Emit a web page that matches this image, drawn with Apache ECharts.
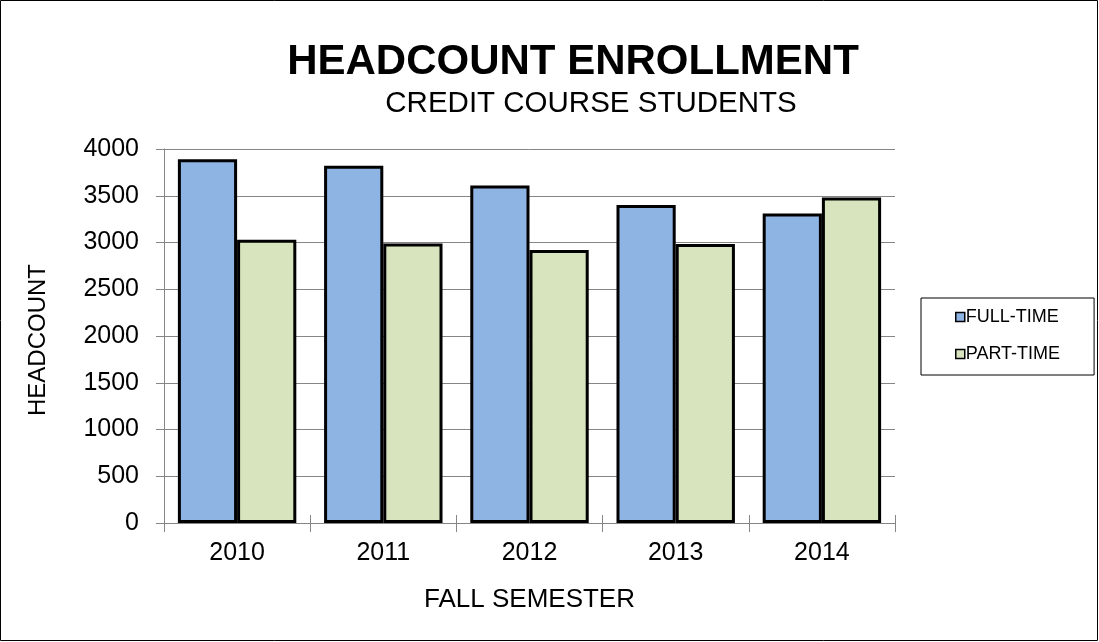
<!DOCTYPE html>
<html>
<head>
<meta charset="utf-8">
<script src="https://cdn.jsdelivr.net/npm/echarts@6/dist/echarts.min.js"></script>
<style>
  html, body { margin: 0; padding: 0; background: #fff; }
  #chart { width: 1099px; height: 642px; }
</style>
</head>
<body>
<div id="chart"></div>
<script>
// Données
const years = ['2010', '2011', '2012', '2013', '2014'];
const fullTime = [3890, 3820, 3610, 3400, 3310];
const partTime = [3030, 2990, 2920, 2985, 3480];
const seriesNames = ['FULL-TIME', 'PART-TIME'];

const chart = echarts.init(document.getElementById('chart'), null, { renderer: 'canvas' });

const font = '"Liberation Sans", Arial, sans-serif';
const gridColor = '#868686';

const option = {
    backgroundColor: '#fff',
    textStyle: { fontFamily: font, color: '#000' },
    graphic: [
        {
            type: 'rect',
            shape: { x: 0.5, y: 0.5, width: 1097, height: 640 },
            style: { fill: 'none', stroke: '#000', lineWidth: 1 },
            silent: true
        },
        {
            type: 'text',
            x: 573, y: 62,
            style: {
                text: 'HEADCOUNT ENROLLMENT',
                font: 'bold 42px ' + font,
                fill: '#000',
                align: 'center',
                verticalAlign: 'middle'
            }
        },
        {
            type: 'text',
            x: 591, y: 104,
            style: {
                text: 'CREDIT COURSE STUDENTS',
                font: '29.5px ' + font,
                fill: '#000',
                align: 'center',
                verticalAlign: 'middle'
            }
        }
    ],
    legend: {
        data: seriesNames,
        orient: 'vertical',
        left: 921,
        top: 298,
        padding: [10, 34, 12, 34],
        itemGap: 19,
        itemWidth: 9,
        itemHeight: 9,
        icon: 'rect',
        borderColor: '#000',
        borderWidth: 1,
        textStyle: { fontFamily: font, fontSize: 18, color: '#000', padding: [0, 0, 0, -4] },
        itemStyle: { borderColor: '#000', borderWidth: 1.5 }
    },
    grid: {
        left: 164,
        right: 204,
        top: 149,
        bottom: 119
    },
    xAxis: [
        {
            type: 'category',
            data: years,
            name: 'FALL SEMESTER',
            nameLocation: 'middle',
            nameGap: 64,
            nameTextStyle: { fontSize: 26, color: '#000', fontFamily: font },
            axisLine: { lineStyle: { color: gridColor, width: 1 } },
            axisTick: { show: true, length: 9, lineStyle: { color: gridColor } },
            axisLabel: { fontSize: 25, color: '#000', margin: 18, fontFamily: font },
            splitLine: { show: false }
        },
        {
            // second axe pour les graduations qui traversent la ligne
            type: 'category',
            data: years,
            position: 'bottom',
            axisLine: { show: false },
            axisTick: { show: true, inside: true, length: 8, lineStyle: { color: gridColor } },
            axisLabel: { show: false },
            splitLine: { show: false }
        }
    ],
    yAxis: {
        type: 'value',
        min: 0,
        max: 4000,
        interval: 500,
        name: 'HEADCOUNT',
        nameLocation: 'middle',
        nameGap: 114,
        nameTextStyle: { fontSize: 24, color: '#000', fontFamily: font, padding: [0, 8, 0, 0] },
        axisLine: { show: true, lineStyle: { color: gridColor, width: 1 } },
        axisTick: { show: true, length: 8, lineStyle: { color: gridColor } },
        axisLabel: {
            fontSize: 25,
            color: '#000',
            margin: 25,
            fontFamily: font,
            formatter: function (v) { return String(v); }
        },
        splitLine: { show: true, lineStyle: { color: gridColor, width: 1 } }
    },
    series: [
        {
            name: seriesNames[0],
            type: 'bar',
            data: fullTime,
            barGap: '0%',
            barCategoryGap: '19%',
            itemStyle: { color: '#8EB4E3', borderColor: '#000', borderWidth: 3 }
        },
        {
            name: seriesNames[1],
            type: 'bar',
            data: partTime,
            itemStyle: { color: '#D7E4BD', borderColor: '#000', borderWidth: 3 }
        }
    ]
};

chart.setOption(option);
window.addEventListener('resize', chart.resize);
</script>
</body>
</html>
